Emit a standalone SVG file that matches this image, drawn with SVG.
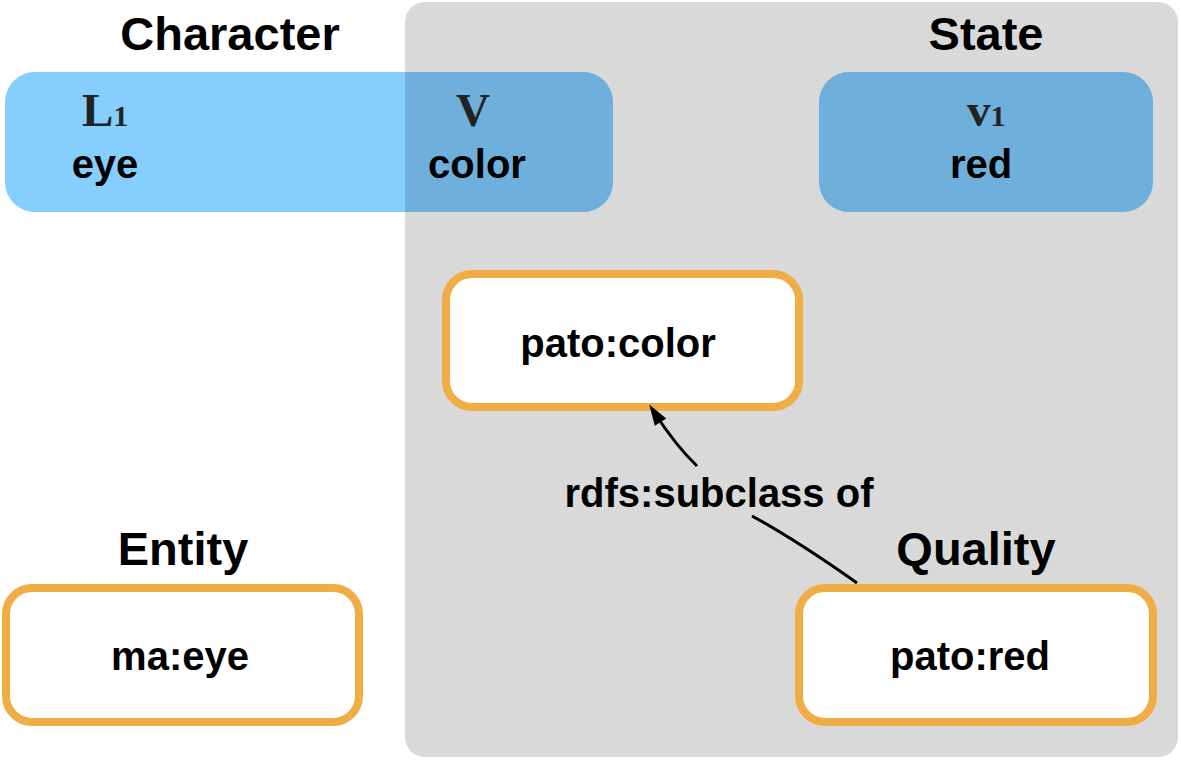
<svg xmlns="http://www.w3.org/2000/svg" width="1181" height="760" viewBox="0 0 1181 760">
<style>
.head{font-family:"Liberation Sans",Arial,sans-serif;font-weight:bold;font-size:47px;fill:#000;text-anchor:middle}
.lbl{font-family:"Liberation Sans",Arial,sans-serif;font-weight:bold;font-size:40px;fill:#000;text-anchor:middle}
.sym{font-family:"Liberation Serif","Times New Roman",serif;font-weight:bold;font-size:47px;fill:#222}
.sub{font-size:30px}
.onode{fill:#fff;stroke:#f0ad45;stroke-width:8}
.edge{fill:none;stroke:#000;stroke-width:3}
</style>
<defs>
<clipPath id="grayclip"><rect x="405" y="0" width="776" height="760"/></clipPath>
<marker id="arr" viewBox="0 0 10 10" refX="9" refY="5" markerWidth="8" markerHeight="8" markerUnits="userSpaceOnUse" orient="auto" overflow="visible">
<path d="M0,0 L10,5 L0,10 z" fill="#000" transform="translate(-6,-3.5) scale(2.6,1.7)"/>
</marker>
</defs>
<rect id="state-region" x="405" y="2" width="773" height="755" rx="20" fill="#d9d9d9"/>
<g id="character">
<rect x="5" y="72" width="608" height="140" rx="30" fill="#85cefd"/>
<rect x="5" y="72" width="608" height="140" rx="30" fill="#6fafdb" clip-path="url(#grayclip)"/>
<text class="sym" x="82" y="126">L<tspan class="sub">1</tspan></text>
<text class="lbl" x="105" y="178">eye</text>
<text class="sym" x="456" y="126">V</text>
<text class="lbl" x="477" y="178">color</text>
</g>
<g id="state">
<rect x="819" y="72" width="334" height="140" rx="30" fill="#6fafdb"/>
<text class="sym" x="967" y="126">v<tspan class="sub">1</tspan></text>
<text class="lbl" x="981" y="178">red</text>
</g>
<text class="head" x="230" y="50">Character</text>
<text class="head" x="986" y="50">State</text>
<text class="head" x="183" y="565">Entity</text>
<text class="head" x="976" y="565">Quality</text>
<g id="pato-color">
<rect class="onode" x="446" y="274" width="353" height="133" rx="26"/>
<text class="lbl" x="618" y="357">pato:color</text>
</g>
<g id="ma-eye">
<rect class="onode" x="6" y="588" width="353" height="134" rx="26"/>
<text class="lbl" x="180" y="670">ma:eye</text>
</g>
<g id="pato-red">
<rect class="onode" x="799" y="588" width="354" height="134" rx="26"/>
<text class="lbl" x="970" y="670">pato:red</text>
</g>
<g id="connectors">
<path class="edge" d="M857,583 Q796,540 752,516"/>
<path class="edge" d="M697,466 Q676,446 654,412" marker-end="url(#arr)"/>
<text class="lbl" x="719" y="507">rdfs:subclass of</text>
</g>
</svg>
